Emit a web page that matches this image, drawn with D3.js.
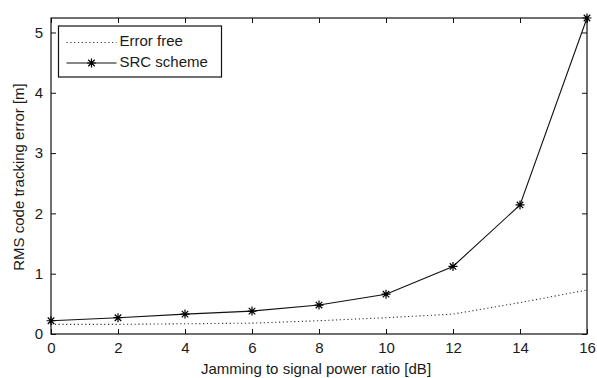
<!DOCTYPE html>
<html>
<head>
<meta charset="utf-8">
<script src="https://cdn.jsdelivr.net/npm/d3@7"></script>
<style>
  html, body { margin: 0; padding: 0; background: #fff; }
  svg { display: block; }
  text { font-family: "Liberation Sans", Arial, sans-serif; fill: #1a1a1a; }
</style>
</head>
<body>
<svg id="chart" width="597" height="378"></svg>
<script>
// Jamming-to-signal ratio (dB) on the x axis
const jsr = [0, 2, 4, 6, 8, 10, 12, 14, 16];
// RMS code tracking error (m)
const errorFree = [0.16, 0.16, 0.17, 0.18, 0.22, 0.27, 0.33, 0.52, 0.73];
const srcScheme = [0.22, 0.27, 0.33, 0.38, 0.48, 0.66, 1.12, 2.14, 5.24];
const xTicks = [0, 2, 4, 6, 8, 10, 12, 14, 16];
const yTicks = [0, 1, 2, 3, 4, 5];
const legendLabels = ["Error free", "SRC scheme"];

const svg = d3.select("#chart");
const m = { left: 51, right: 10, top: 18, bottom: 44 };
const W = 597, H = 378;
const iw = W - m.left - m.right, ih = H - m.top - m.bottom;

const x = d3.scaleLinear().domain([0, 16]).range([0, iw]);
const y = d3.scaleLinear().domain([0, d3.max(srcScheme)]).range([ih, 0]);

const g = svg.append("g").attr("transform", `translate(${m.left},${m.top})`);

const fontSize = 15;
const styleAxis = sel => {
  sel.select(".domain").remove();
  sel.selectAll(".tick line").attr("stroke", "#111").attr("stroke-width", 1);
  sel.selectAll(".tick text").style("font-size", fontSize + "px")
    .style("font-family", '"Liberation Sans", Arial, sans-serif').attr("fill", "#1a1a1a");
};

// bottom / left axes with inward ticks
g.append("g").attr("transform", `translate(0,${ih})`)
  .call(d3.axisBottom(x).tickValues(xTicks).tickFormat(d3.format("d"))
    .tickSizeInner(-5).tickSizeOuter(0).tickPadding(8))
  .call(styleAxis);
g.append("g")
  .call(d3.axisLeft(y).tickValues(yTicks).tickFormat(d3.format("d"))
    .tickSizeInner(-5).tickSizeOuter(0).tickPadding(8))
  .call(styleAxis);
// mirrored ticks on top and right
g.append("g")
  .call(d3.axisTop(x).tickValues(xTicks).tickSizeInner(-5).tickSizeOuter(0).tickFormat(""))
  .call(styleAxis);
g.append("g").attr("transform", `translate(${iw},0)`)
  .call(d3.axisRight(y).tickValues(yTicks).tickSizeInner(-5).tickSizeOuter(0).tickFormat(""))
  .call(styleAxis);

// axes box
g.append("rect").attr("x", 0).attr("y", 0).attr("width", iw).attr("height", ih)
  .attr("fill", "none").attr("stroke", "#111").attr("stroke-width", 1.2);

const line = d3.line().x((d, i) => x(jsr[i])).y(d => y(d));

g.append("path").datum(errorFree).attr("d", line)
  .attr("fill", "none").attr("stroke", "#333").attr("stroke-width", 1.1)
  .attr("stroke-dasharray", "1.2,2.6");

g.append("path").datum(srcScheme).attr("d", line)
  .attr("fill", "none").attr("stroke", "#111").attr("stroke-width", 1.1);

// asterisk marker: plus and cross overlaid
function asterisk(sel, r) {
  const d = r * 0.72;
  sel.append("path")
    .attr("d", `M${-r},0L${r},0M0,${-r}L0,${r}M${-d},${-d}L${d},${d}M${-d},${d}L${d},${-d}`)
    .attr("stroke", "#000").attr("stroke-width", 1.2).attr("fill", "none");
}
g.selectAll("g.marker").data(srcScheme).enter().append("g").attr("class", "marker")
  .attr("transform", (d, i) => `translate(${x(jsr[i])},${y(d)})`)
  .each(function () { asterisk(d3.select(this), 4.5); });

// axis titles
svg.append("text").attr("x", m.left + iw / 2 - 3).attr("y", 370)
  .attr("text-anchor", "middle").attr("dominant-baseline", "middle")
  .style("font-size", fontSize + "px").text("Jamming to signal power ratio [dB]");
svg.append("text").attr("transform", `translate(20,177) rotate(-90)`)
  .attr("text-anchor", "middle").attr("dominant-baseline", "middle")
  .style("font-size", fontSize + "px").text("RMS code tracking error [m]");

// legend
const lg = svg.append("g").attr("transform", "translate(58.5,26)");
lg.append("rect").attr("width", 163).attr("height", 51)
  .attr("fill", "#fff").attr("stroke", "#111").attr("stroke-width", 1.2);
const rows = [16.5, 37];
lg.append("line").attr("x1", 8).attr("x2", 58).attr("y1", rows[0]).attr("y2", rows[0])
  .attr("stroke", "#333").attr("stroke-width", 1.1).attr("stroke-dasharray", "1.2,2.6");
lg.append("line").attr("x1", 8).attr("x2", 58).attr("y1", rows[1]).attr("y2", rows[1])
  .attr("stroke", "#111").attr("stroke-width", 1.1);
lg.append("g").attr("transform", `translate(33,${rows[1]})`).call(s => asterisk(s, 4.5));
lg.selectAll("text.lab").data(legendLabels).enter().append("text").attr("class", "lab")
  .attr("x", 61).attr("y", (d, i) => rows[i]).attr("dominant-baseline", "middle")
  .style("font-size", fontSize + "px").text(d => d);
</script>
</body>
</html>
